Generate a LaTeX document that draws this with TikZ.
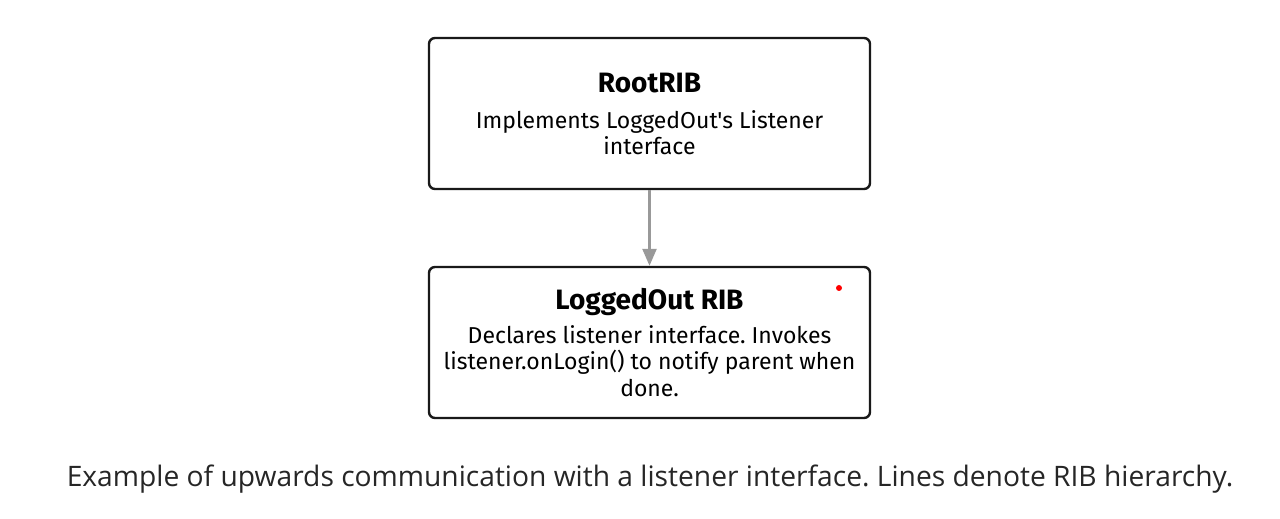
\documentclass[tikz,border=0pt]{standalone}
\usepackage{fontspec}
\setmainfont{Open Sans}
\newfontfamily\ribfont{Fira Sans}
\usetikzlibrary{arrows.meta}

\tikzset{
  rib/.style={draw=black!90, line width=2.4pt, rounded corners=6pt, fill=white,
    minimum width=441pt, minimum height=151pt, align=center,
    font=\ribfont\fontsize{23}{26.5}\selectfont},
  hierarchy/.style={draw=black!40, line width=2.5pt, -{Triangle[width=14pt,length=17pt]}}
}

\begin{document}
\frenchspacing
\begin{tikzpicture}[x=1pt,y=1pt]
  \useasboundingbox (0,0) rectangle (1280,519);

  % the two RIBs
  \node[rib] (root) at (649.5,405.5)
    {{\bfseries\fontsize{28}{34}\selectfont RootRIB}\\[10pt]
     Implements LoggedOut's Listener\\[-1pt]interface};
  \node[rib] (loggedout) at (649.5,176.5)
    {{\bfseries\fontsize{28}{34}\selectfont LoggedOut RIB}\\[7pt]
     Declares listener interface. Invokes\\
     listener.onLogin() to notify parent when\\done.};

  \node[circle, fill=red, inner sep=0pt, minimum size=6pt] (dot) at (839,231) {};

  % hierarchy line
  \draw[hierarchy] (root.south) -- (loggedout.north);

  \node[font=\fontsize{28.2}{34}\selectfont, text=black!85] (caption) at (650,40)
    {Example of upwards communication with a listener interface. Lines denote RIB hierarchy.};
\end{tikzpicture}
\end{document}
